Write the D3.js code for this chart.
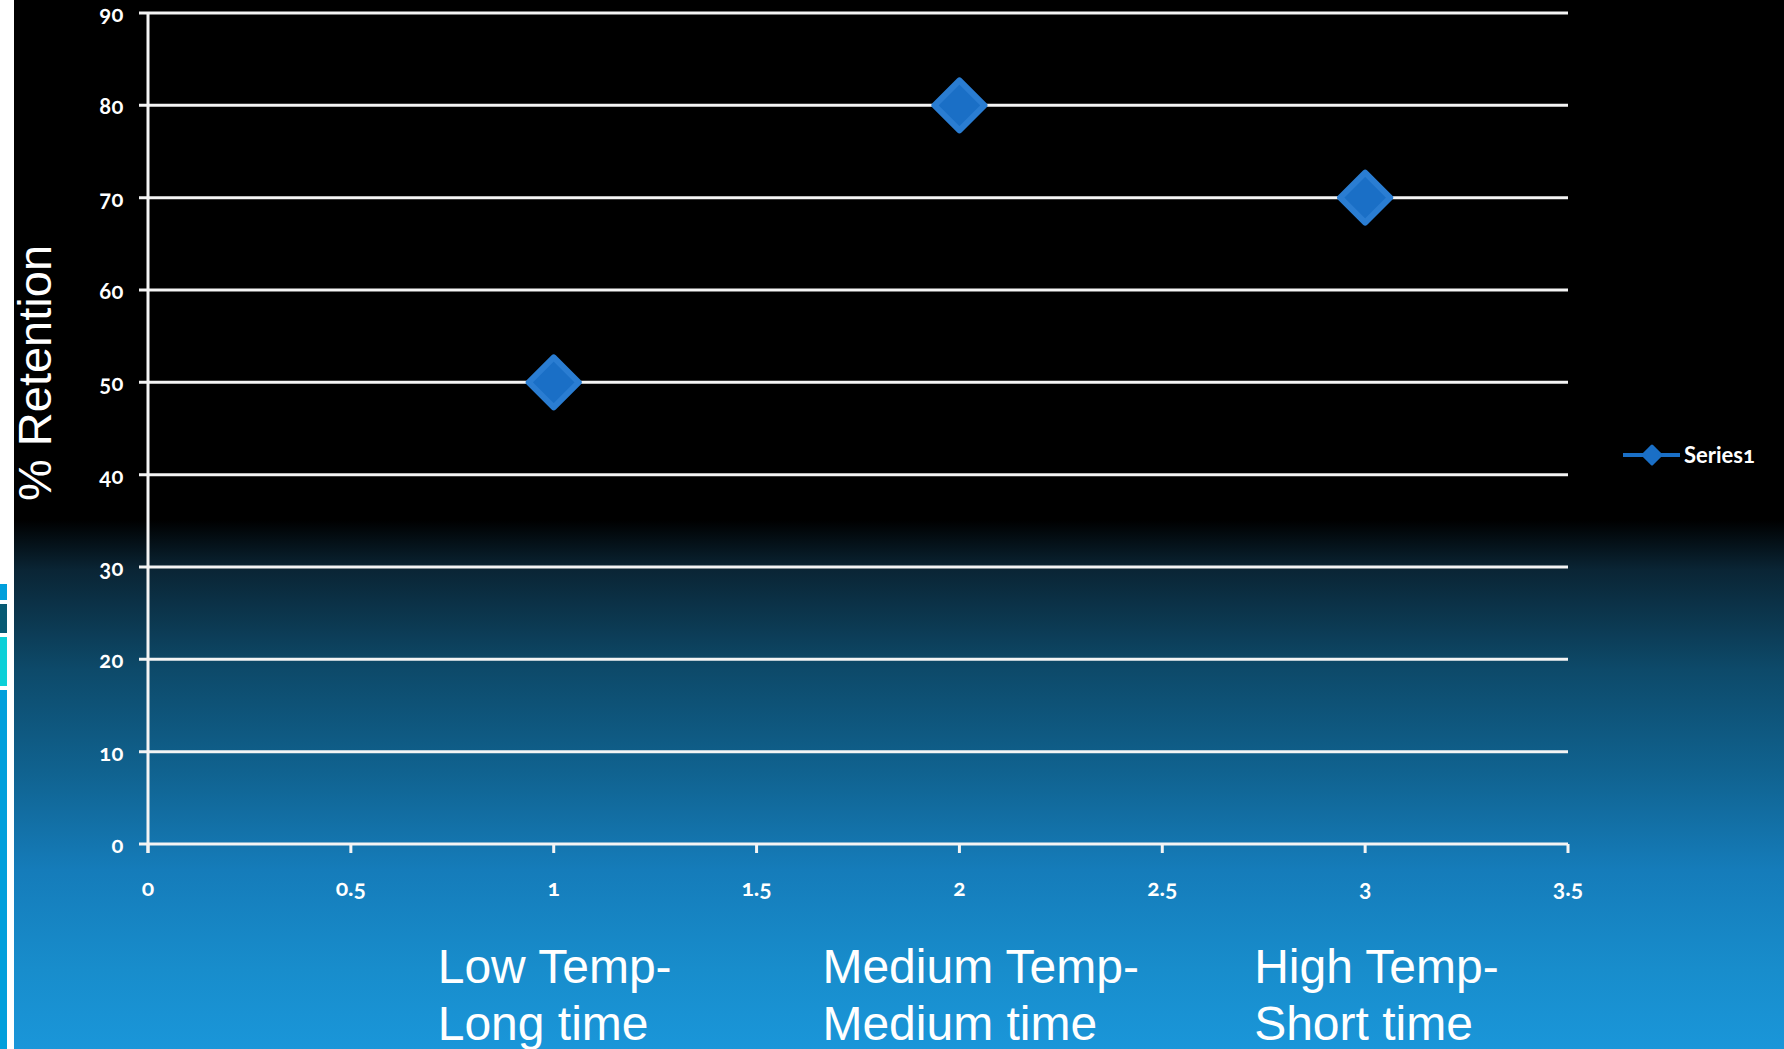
<!DOCTYPE html>
<html>
<head>
<meta charset="utf-8">
<script src="https://cdn.jsdelivr.net/npm/d3@7"></script>
<style>
  html, body { margin: 0; padding: 0; background: #fff; }
  svg { display: block; }
  .tick-num { font-family: Lato, "DejaVu Sans", sans-serif; font-weight: 700; font-variant-numeric: oldstyle-nums; font-feature-settings: "onum" 1; }
</style>
</head>
<body>
<svg id="chart" width="1784" height="1049"></svg>
<script>
// Series values
const seriesName = "Series1";
const xValues = [1, 2, 3];
const retention = [50, 80, 70];

// Axis ticks
const yTicks = [0, 10, 20, 30, 40, 50, 60, 70, 80, 90];
const xTicks = [0, 0.5, 1, 1.5, 2, 2.5, 3, 3.5];
const xTickLabels = ["0", "0.5", "1", "1.5", "2", "2.5", "3", "3.5"];

// Condition captions beneath the axis
const conditionLines = [
  ["Low Temp-", "Long time"],
  ["Medium Temp-", "Medium time"],
  ["High Temp-", "Short time"]
];
const yTitle = "% Retention";

const W = 1784, H = 1049;
const svg = d3.select("#chart");

// Slide background: black top fading into blue
const defs = svg.append("defs");
const grad = defs.append("linearGradient")
  .attr("id", "bg").attr("x1", 0).attr("y1", 0).attr("x2", 0).attr("y2", H)
  .attr("gradientUnits", "userSpaceOnUse");
[[0, "#000000"], [520, "#000000"], [570, "#0a2535"], [670, "#0d4a6a"],
 [770, "#10628f"], [870, "#157cba"], [970, "#188dcc"], [1049, "#1a96d9"]]
  .forEach(([o, c]) => grad.append("stop").attr("offset", o / H).attr("stop-color", c));

svg.append("rect").attr("width", W).attr("height", H).attr("fill", "#ffffff");
svg.append("rect").attr("x", 14).attr("width", W - 14).attr("height", H).attr("fill", "url(#bg)");

// Decorative edge blocks on the left
[[584, 600, "#009fdc"], [604, 633, "#075a73"], [637, 686, "#0bd0d8"], [690, 1049, "#009fdc"]]
  .forEach(([y0, y1, c]) => svg.append("rect")
    .attr("x", 0).attr("y", y0).attr("width", 7).attr("height", y1 - y0).attr("fill", c));

// Scales
const x = d3.scaleLinear().domain([0, 3.5]).range([148, 1568]);
const y = d3.scaleLinear().domain([0, 90]).range([844, 13]);

const lineColor = "#f4f4f4";

// Horizontal gridlines with left tick stubs
svg.append("g").selectAll("line").data(yTicks).join("line")
  .attr("x1", 139).attr("x2", x(3.5))
  .attr("y1", d => y(d)).attr("y2", d => y(d))
  .attr("stroke", lineColor).attr("stroke-width", 3);

// Vertical axis
svg.append("line").attr("x1", x(0)).attr("x2", x(0))
  .attr("y1", y(90)).attr("y2", 853)
  .attr("stroke", lineColor).attr("stroke-width", 3);

// X ticks
svg.append("g").selectAll("line").data(xTicks).join("line")
  .attr("x1", d => x(d)).attr("x2", d => x(d))
  .attr("y1", y(0)).attr("y2", 853)
  .attr("stroke", lineColor).attr("stroke-width", 3);

// Y tick labels
svg.append("g").selectAll("text").data(yTicks).join("text")
  .attr("class", "tick-num")
  .attr("x", 124).attr("y", d => y(d) + 9)
  .attr("text-anchor", "end").attr("font-size", 22).attr("fill", "#ffffff")
  .attr("letter-spacing", 0.5)
  .text(d => d);

// X tick labels
svg.append("g").selectAll("text").data(xTicks).join("text")
  .attr("class", "tick-num")
  .attr("x", d => x(d)).attr("y", 896)
  .attr("text-anchor", "middle").attr("font-size", 23).attr("fill", "#ffffff")
  .text((d, i) => xTickLabels[i]);

// Y axis title
svg.append("text")
  .attr("transform", "translate(51,373) rotate(-90)")
  .attr("text-anchor", "middle")
  .attr("font-family", "Liberation Sans, Arial, sans-serif")
  .attr("font-size", 47).attr("fill", "#ffffff")
  .text(yTitle);

// Condition captions, left-aligned under each point
const captionX = [x(1) - 116, x(2) - 137, x(3) - 111];
conditionLines.forEach((lines, i) => {
  const t = svg.append("text")
    .attr("font-family", "Liberation Sans, Arial, sans-serif")
    .attr("font-size", 48).attr("fill", "#ffffff");
  lines.forEach((s, j) => t.append("tspan")
    .attr("x", captionX[i]).attr("y", 983 + j * 57).text(s));
});

// Diamond marker path
const diamond = r => `M0,${-r}L${r},0L0,${r}L${-r},0Z`;
const markerFill = "#1a6fc6";

svg.append("g").selectAll("path").data(xValues).join("path")
  .attr("transform", (d, i) => `translate(${x(d)},${y(retention[i])})`)
  .attr("d", diamond(25))
  .attr("fill", markerFill)
  .attr("stroke", "#2a7dd2").attr("stroke-width", 6).attr("stroke-linejoin", "round");

// Legend
const lg = svg.append("g").attr("transform", "translate(1623,455)");
lg.append("line").attr("x1", 0).attr("x2", 57).attr("y1", 0).attr("y2", 0)
  .attr("stroke", markerFill).attr("stroke-width", 4);
lg.append("path").attr("transform", "translate(29,0)").attr("d", diamond(9))
  .attr("fill", markerFill).attr("stroke", markerFill).attr("stroke-width", 3)
  .attr("stroke-linejoin", "round");
lg.append("text").attr("class", "tick-num")
  .attr("x", 61).attr("y", 8).attr("font-size", 22).attr("fill", "#ffffff")
  .text(seriesName);
</script>
</body>
</html>
